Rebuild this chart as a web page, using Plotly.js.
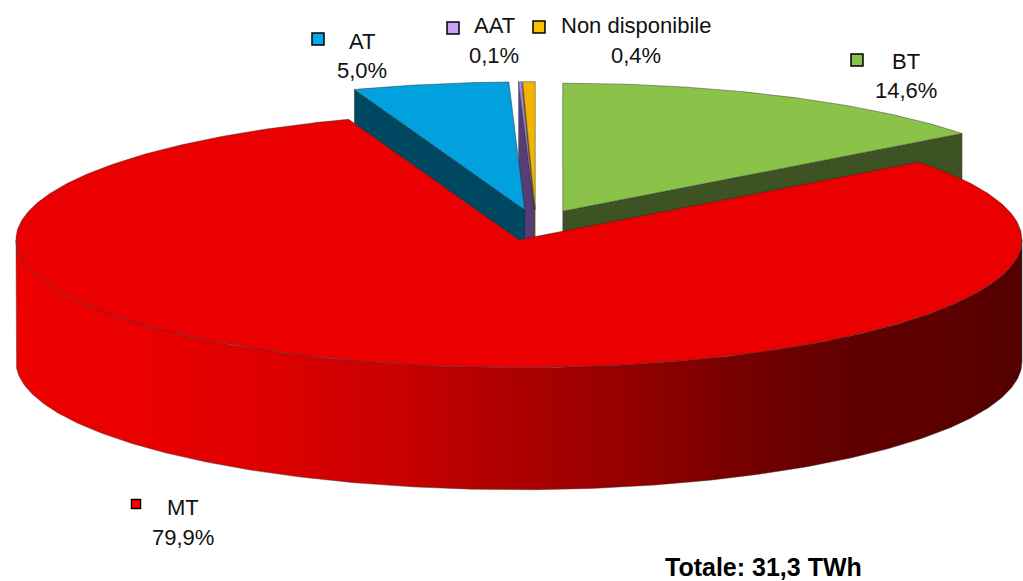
<!DOCTYPE html>
<html>
<head>
<meta charset="utf-8">
<script src="https://cdn.plot.ly/plotly-3.0.1.min.js"></script>
<style>html,body{margin:0;padding:0;background:#fff;}#chart{width:1023px;height:581px;}</style>
</head>
<body>
<div id="chart"></div>
<script>
// ---- data ----
const labels = ['BT', 'MT', 'AT', 'AAT', 'Non disponibile'];
const values = [14.6, 79.9, 5.0, 0.1, 0.4];
const totalText = 'Totale: 31,3 TWh';

// ---- styles ----
const topColors  = ['rgb(139,194,74)', 'rgb(234,0,0)', 'rgb(0,161,222)', 'rgb(170,130,220)', 'rgb(242,182,0)'];
const cutColors  = ['rgb(61,83,36)', 'rgb(120,0,0)', 'rgb(0,72,98)', 'rgb(85,62,118)', 'rgb(150,110,0)'];
const markColors = ['rgb(139,194,74)', 'rgb(255,0,0)', 'rgb(0,170,230)', 'rgb(204,160,245)', 'rgb(255,192,0)'];
const sideScale = [[0,'rgb(236,0,0)'],[0.12,'rgb(234,0,0)'],[0.25,'rgb(222,0,0)'],[0.38,'rgb(200,0,0)'],
                   [0.5,'rgb(172,0,0)'],[0.62,'rgb(145,0,0)'],[0.72,'rgb(118,0,0)'],[0.82,'rgb(98,0,0)'],
                   [0.92,'rgb(92,0,0)'],[1,'rgb(84,0,0)']];

// geometry (pixel units on hidden axes)
const CX = 536, CY = 225, RX = 503, RY = 128, DEPTH = 122, PULL = 0.12;
// label layout: [text x, line1 y, line2 y, marker x, marker y, marker size]
const labelPos = [
  [906, 61, 90, 857, 60, 12],
  [183, 507, 537, 136, 504, 9],
  [362, 41, 70, 318, 39, 12],
  [494, 25, 55, 453, 28, 12],
  [636, 25, 55, 539, 27, 12]
];

const total = values.reduce((a, b) => a + b, 0);
function fmt(v){ return v.toFixed(1).replace('.', ',') + '%'; }
function pt(cx, cy, th, dz){ return [cx + RX * Math.sin(th), cy - RY * Math.cos(th) + dz]; }
function arc(cx, cy, a, b, dz){
  const n = Math.max(2, Math.ceil(Math.abs(b - a) / 0.01));
  const xs = [], ys = [];
  for (let k = 0; k <= n; k++){
    const t = a + (b - a) * k / n;
    const p = pt(cx, cy, t, dz); xs.push(p[0]); ys.push(p[1]);
  }
  return [xs, ys];
}

const slices = [];
let cum = 0;
values.forEach((v, i) => {
  const s = cum / total * 2 * Math.PI;
  cum += v;
  const e = cum / total * 2 * Math.PI;
  const m = (s + e) / 2;
  const cx = CX + PULL * RX * Math.sin(m);
  const cy = CY - PULL * RY * Math.cos(m);
  slices.push({i, s, e, m, cx, cy});
});
// back slices first
const order = slices.slice().sort((a, b) => Math.cos(b.m) - Math.cos(a.m));

const traces = [];
const base = {type: 'scatter', mode: 'lines', fill: 'toself', hoverinfo: 'skip', showlegend: false};
order.forEach(sl => {
  const {i, s, e, cx, cy} = sl;
  // cut faces
  const faces = [];
  if (Math.sin(s) < -1e-6) faces.push(s);
  if (Math.sin(e) > 1e-6) faces.push(e);
  faces.forEach(th => {
    const p0 = pt(cx, cy, th, 0), p1 = pt(cx, cy, th, DEPTH);
    traces.push(Object.assign({}, base, {
      x: [cx, p0[0], p1[0], cx, cx], y: [cy, p0[1], p1[1], cy + DEPTH, cy],
      fillcolor: cutColors[i], line: {width: 0.6, color: 'rgba(0,0,0,0.35)'}
    }));
  });
  // outer side (front half only)
  const a = Math.max(s, Math.PI / 2), b = Math.min(e, 3 * Math.PI / 2);
  if (b > a){
    const top = arc(cx, cy, a, b, 0), bot = arc(cx, cy, b, a, DEPTH);
    const tr = Object.assign({}, base, {
      x: top[0].concat(bot[0]).concat([top[0][0]]),
      y: top[1].concat(bot[1]).concat([top[1][0]]),
      line: {width: 0.8, color: 'rgba(60,60,60,0.6)'}
    });
    if (i === 1) tr.fillgradient = {type: 'horizontal', colorscale: sideScale};
    else tr.fillcolor = cutColors[i];
    traces.push(tr);
  }
  // top face
  const ta = arc(cx, cy, s, e, 0);
  traces.push(Object.assign({}, base, {
    x: [cx].concat(ta[0]).concat([cx]), y: [cy].concat(ta[1]).concat([cy]),
    fillcolor: topColors[i], line: {width: 0.8, color: 'rgba(40,40,40,0.55)'}
  }));
});

const font = {family: 'Liberation Sans, Arial, sans-serif', size: 22, color: '#111'};
const annotations = [];
const shapes = [];
labels.forEach((lab, i) => {
  const [tx, y1, y2, mx, my, ms] = labelPos[i];
  annotations.push({x: tx, y: y1, xref: 'x', yref: 'y', text: lab, showarrow: false, font, xanchor: 'center', yanchor: 'middle'});
  annotations.push({x: tx, y: y2, xref: 'x', yref: 'y', text: fmt(values[i]), showarrow: false, font, xanchor: 'center', yanchor: 'middle'});
  shapes.push({type: 'rect', xref: 'x', yref: 'y', x0: mx - ms / 2, x1: mx + ms / 2, y0: my - ms / 2, y1: my + ms / 2,
               fillcolor: markColors[i], line: {color: '#000', width: 1.5}});
});
annotations.push({x: 763, y: 567, xref: 'x', yref: 'y', text: '<b>' + totalText + '</b>', showarrow: false,
  font: {family: 'Liberation Sans, Arial, sans-serif', size: 25, color: '#000'}, xanchor: 'center', yanchor: 'middle'});

const layout = {
  width: 1023, height: 581, autosize: false,
  margin: {l: 0, r: 0, t: 0, b: 0, pad: 0},
  paper_bgcolor: '#fff', plot_bgcolor: '#fff',
  xaxis: {range: [0, 1023], visible: false, fixedrange: true},
  yaxis: {range: [581, 0], visible: false, fixedrange: true},
  showlegend: false,
  annotations, shapes
};
Plotly.newPlot('chart', traces, layout, {staticPlot: true, displayModeBar: false});
</script>
</body>
</html>
